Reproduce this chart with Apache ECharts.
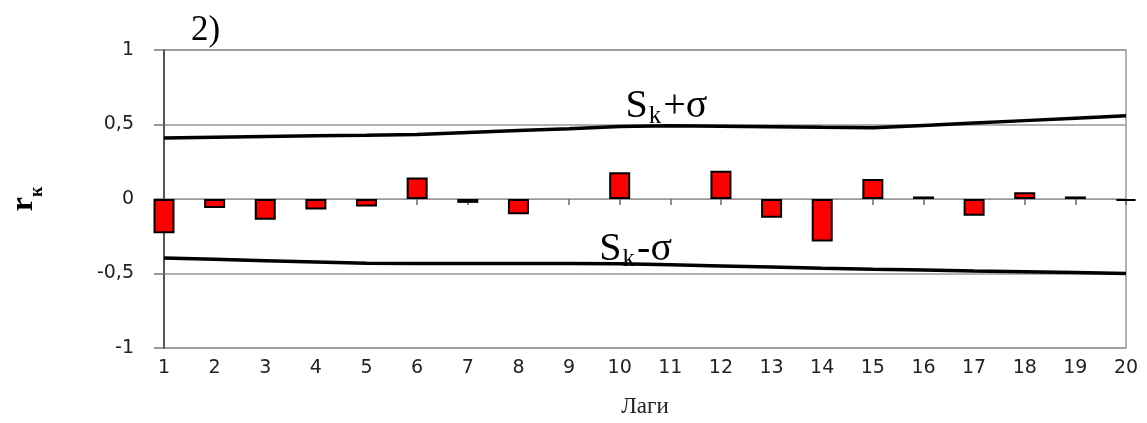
<!DOCTYPE html>
<html>
<head>
<meta charset="utf-8">
<script src="https://cdn.jsdelivr.net/npm/echarts@6/dist/echarts.min.js"></script>
<style>html,body{margin:0;padding:0;background:#fff}#c{width:1147px;height:423px}</style>
</head>
<body>
<div id="c"></div>
<script>
const lags = ['1','2','3','4','5','6','7','8','9','10','11','12','13','14','15','16','17','18','19','20'];
const rk = [-0.23,-0.06,-0.14,-0.07,-0.05,0.145,-0.026,-0.103,null,0.18,null,0.19,-0.125,-0.285,0.135,0.017,-0.113,0.046,0.017,-0.012];
const upper = [0.409,0.414,0.419,0.424,0.428,0.433,0.446,0.459,0.472,0.486,0.492,0.489,0.485,0.481,0.478,0.494,0.510,0.526,0.542,0.558];
const lower = [-0.396,-0.405,-0.414,-0.423,-0.432,-0.433,-0.433,-0.433,-0.433,-0.435,-0.441,-0.449,-0.457,-0.465,-0.472,-0.477,-0.483,-0.488,-0.494,-0.500];
const yTicks = {min:-1, max:1, step:0.5};
const titleText = '2)';
const upperName = 'S|k|+σ';
const lowerName = 'S|k|-σ';
const xName = 'Лаги';

const serif = '"Liberation Serif", "DejaVu Serif", serif';
const sans = '"DejaVu Sans", "Liberation Sans", sans-serif';
function richLabel(s){const p=s.split('|');return '{s|'+p[0]+'}{k|'+p[1]+'}{s|'+p[2]+'}';}
const richStyle = {
  s:{fontFamily:serif,fontSize:40,color:'#000',lineHeight:40,verticalAlign:'bottom'},
  k:{fontFamily:serif,fontSize:25,color:'#000',lineHeight:25,verticalAlign:'bottom',padding:[0,2,-2,1]}
};

const chart = echarts.init(document.getElementById('c'));
chart.setOption({
  animation:false,
  title:{text:titleText,left:186,top:8,textStyle:{fontFamily:serif,fontSize:35,fontWeight:'normal',color:'#000'}},
  grid:{left:163,right:21,top:50,bottom:69,show:true,borderColor:'#999',borderWidth:1.5,backgroundColor:'transparent'},
  xAxis:[
    {type:'category',data:lags,boundaryGap:false,
     axisLine:{onZero:true,lineStyle:{color:'#999',width:1}},
     axisTick:{show:true,length:6,lineStyle:{color:'#666',width:1.5}},
     axisLabel:{show:false},splitLine:{show:false}},
    {type:'category',data:lags,boundaryGap:false,position:'bottom',
     axisLine:{onZero:false,show:false},axisTick:{show:false},
     axisLabel:{show:true,fontFamily:sans,fontSize:19,color:'#222',margin:11},
     name:xName,nameLocation:'middle',nameGap:47,
     nameTextStyle:{fontFamily:serif,fontSize:23,color:'#222'}}
  ],
  yAxis:{type:'value',min:yTicks.min,max:yTicks.max,interval:yTicks.step,
    axisLine:{show:true,lineStyle:{color:'#555',width:2}},
    axisTick:{show:true,length:10,lineStyle:{color:'#777',width:1.5}},
    splitLine:{show:true,lineStyle:{color:'#999',width:1.5}},
    axisLabel:{fontFamily:sans,fontSize:19,color:'#222',margin:30,
      formatter:v=>String(v).replace('.',',')},
    name:'{r|r}{k|к}',nameLocation:'middle',nameRotate:90,nameGap:124,
    nameTextStyle:{rich:{
      r:{fontFamily:serif,fontSize:32,fontWeight:'bold',color:'#000',verticalAlign:'bottom'},
      k:{fontFamily:serif,fontSize:18,fontWeight:'bold',color:'#000',verticalAlign:'bottom',padding:[0,0,-6,0]}
    }}},
  series:[
    {type:'bar',data:rk,xAxisIndex:0,barWidth:21,clip:true,
     itemStyle:{color:'#ff0000',borderColor:'#000',borderWidth:2}},
    {type:'line',data:upper,xAxisIndex:0,symbol:'none',lineStyle:{color:'#000',width:3.5},
     markPoint:{symbol:'circle',symbolSize:0,data:[{coord:['11',upper[10]]}],
       label:{show:true,position:'top',distance:-1,offset:[-4,0],formatter:richLabel(upperName),rich:richStyle}}},
    {type:'line',data:lower,xAxisIndex:0,symbol:'none',lineStyle:{color:'#000',width:3.5},
     markPoint:{symbol:'circle',symbolSize:0,data:[{coord:['10',lower[9]]}],
       label:{show:true,position:'top',distance:-6,offset:[16,0],formatter:richLabel(lowerName),rich:richStyle}}}
  ]
});
</script>
</body>
</html>
